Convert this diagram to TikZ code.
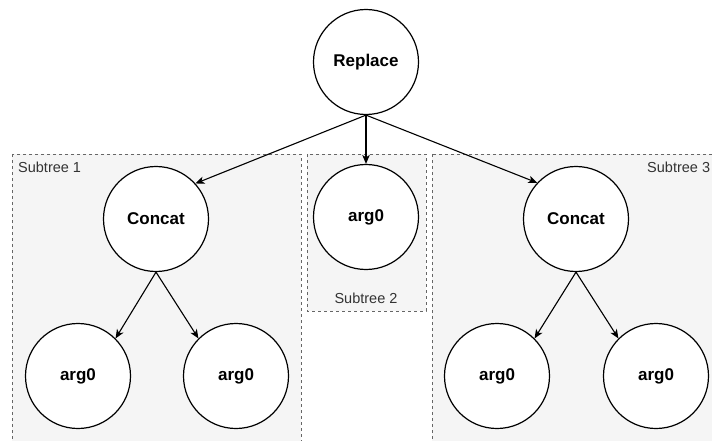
\documentclass[tikz,border=0pt]{standalone}
\usepackage{fontspec}
\setmainfont{Liberation Sans}
\usetikzlibrary{arrows.meta}
\definecolor{boxfill}{HTML}{F5F5F5}
\definecolor{boxline}{HTML}{666666}
\definecolor{labeltext}{HTML}{333333}
\tikzset{
  op/.style={circle, draw=black, fill=white, line width=1.2pt, minimum size=105pt,
             inner sep=0pt, font=\fontsize{17}{20}\selectfont\bfseries},
  group/.style={draw=boxline, fill=boxfill, line width=0.8pt, dash pattern=on 3pt off 3pt},
  grouplabel/.style={text=labeltext, font=\fontsize{14.5}{17}\selectfont, inner sep=0pt},
  link/.style={line width=1.1pt, -{Stealth[length=9pt, width=7.5pt, inset=2.5pt]}},
}
\begin{document}
\begin{tikzpicture}[x=1pt, y=-1pt]
  \useasboundingbox (0,0) rectangle (712,441);
  \clip (0,0) rectangle (712,441);

  % subtree frames
  \draw[group] (12,154) rectangle (301,460);
  \draw[group] (307,154) rectangle (426,311);
  \draw[group] (432,154) rectangle (725,460);
  \node[grouplabel, anchor=west] (l1) at (18,167) {Subtree 1};
  \node[grouplabel] (l2) at (366,298) {Subtree 2};
  \node[grouplabel, anchor=west] (l3) at (647,167) {Subtree 3};

  % tree nodes
  \node[op] (root) at (366,62) {Replace};
  \node[op] (cl) at (156,219) {Concat};
  \node[op] (mid) at (366,217) {arg0};
  \node[op] (cr) at (576,219) {Concat};
  \node[op] (a1) at (78,376) {arg0};
  \node[op] (a2) at (236,376) {arg0};
  \node[op] (a3) at (497,376) {arg0};
  \node[op] (a4) at (656,376) {arg0};

  % edges
  \draw[link] (root.south) -- (cl.42);
  \draw[link] (root.south) -- (mid.north);
  \draw[link] (root.south) -- (cr.137);
  \draw[link] (cl.south) -- (a1.45);
  \draw[link] (cl.south) -- (a2.135);
  \draw[link] (cr.south) -- (a3.45);
  \draw[link] (cr.south) -- (a4.135);
\end{tikzpicture}
\end{document}
